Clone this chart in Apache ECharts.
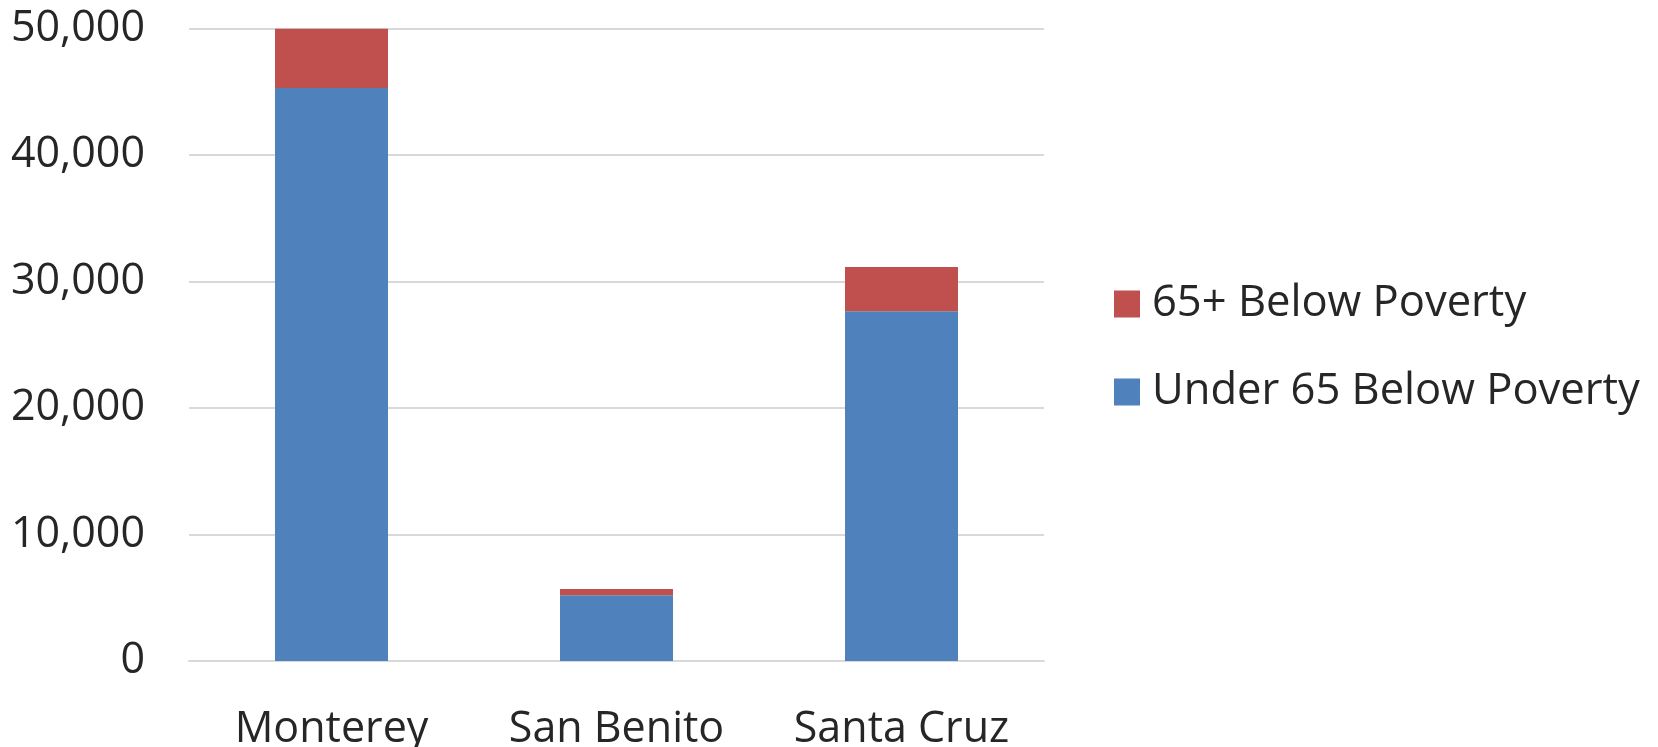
<!DOCTYPE html>
<html>
<head>
<meta charset="utf-8">
<script src="https://cdn.jsdelivr.net/npm/echarts@6/dist/echarts.min.js"></script>
<style>
html,body{margin:0;padding:0;background:#fff;}
#chart{width:1658px;height:747px;}
</style>
</head>
<body>
<div id="chart"></div>
<script>
const categories = ['Monterey', 'San Benito', 'Santa Cruz'];
const under65 = [45320, 5190, 27650];
const over65 = [4680, 500, 3510];
const yTicks = [0, 10000, 20000, 30000, 40000, 50000];
const seriesNames = ['Under 65 Below Poverty', '65+ Below Poverty'];

const FONT = 'Open Sans';
const TXT = '#262626';
const chart = echarts.init(document.getElementById('chart'));
chart.setOption({
  animation: false,
  grid: { left: 189, right: 614, top: 28.7, bottom: 86, containLabel: false, outerBoundsMode: 'none' },
  legend: {
    orient: 'vertical',
    left: 1109,
    top: 277,
    itemWidth: 26,
    itemHeight: 27,
    itemGap: 44,
    icon: 'rect',
    data: [seriesNames[1], seriesNames[0]],
    textStyle: { fontFamily: FONT, fontSize: 43.5, color: TXT, padding: [0, 0, 0, 7] }
  },
  xAxis: {
    type: 'category',
    data: categories,
    axisLine: { show: true, lineStyle: { color: '#d9d9d9', width: 2 } },
    axisTick: { show: false },
    axisLabel: { fontFamily: FONT, fontSize: 43, color: TXT, margin: 47, interval: 0, hideOverlap: false }
  },
  yAxis: {
    type: 'value',
    min: yTicks[0],
    max: yTicks[yTicks.length - 1],
    interval: yTicks[1] - yTicks[0],
    axisLine: { show: false },
    axisTick: { show: false },
    splitLine: { lineStyle: { color: '#d9d9d9', width: 2 } },
    axisLabel: {
      fontFamily: FONT, fontSize: 43, color: TXT, margin: 44,
      formatter: v => v.toLocaleString('en-US')
    }
  },
  series: [
    {
      name: seriesNames[0], type: 'bar', stack: 'total', data: under65,
      barWidth: 113, itemStyle: { color: '#4f81bd' }
    },
    {
      name: seriesNames[1], type: 'bar', stack: 'total', data: over65,
      barWidth: 113, itemStyle: { color: '#c0504d' }
    }
  ]
});
</script>
</body>
</html>
